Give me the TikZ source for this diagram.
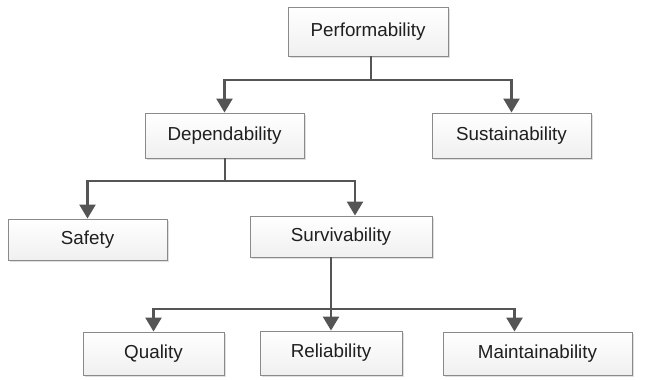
\documentclass[tikz,border=0pt]{standalone}
\usepackage{fontspec}
\setmainfont{Liberation Sans}
\usetikzlibrary{shadows,arrows.meta}
\definecolor{boxline}{HTML}{8A8A8A}
\definecolor{arrowc}{HTML}{555555}
\tikzset{
  box/.style={draw=boxline, line width=0.9pt, top color=white, bottom color=gray!12,
    drop shadow={shadow xshift=2pt, shadow yshift=-2pt, opacity=0.25, fill=gray},
    font=\fontsize{18.8}{22}\selectfont, text=black!88, inner sep=0pt},
  conn/.style={draw=arrowc, line width=2.6pt, -{Triangle[length=14pt,width=16pt]}},
  plain/.style={draw=arrowc, line width=2.6pt}
}
\begin{document}
\begin{tikzpicture}[x=1pt,y=-1pt]
\useasboundingbox (0,0) rectangle (645,380);
\node[box, minimum width=160pt, minimum height=49pt] (perf) at (368,31.5) {Performability};
\node[box, minimum width=159pt, minimum height=45pt] (dep) at (224.5,135.5) {Dependability};
\node[box, minimum width=159pt, minimum height=45pt] (sus) at (511.5,135.5) {Sustainability};
\node[box, minimum width=159pt, minimum height=41pt] (saf) at (87.5,239.5) {Safety};
\node[box, minimum width=182pt, minimum height=41pt] (surv) at (341,236.5) {Survivability};
\node[box, minimum width=141pt, minimum height=43pt] (qual) at (153.5,353.5) {Quality};
\node[box, minimum width=142pt, minimum height=44pt] (rel) at (331,353) {Reliability};
\node[box, minimum width=189pt, minimum height=43pt] (main) at (537.5,353.5) {Maintainability};
\coordinate (j1) at (371,80);
\coordinate (j2) at (225,181);
\coordinate (j3) at (331,309);
\draw[plain] (perf.south -| j1) -- (j1);
\draw[conn] (j1) -| (dep.north);
\draw[conn] (j1) -| (sus.north);
\draw[plain] (dep.south -| j2) -- (j2);
\draw[conn] (j2) -| (saf.north);
\draw[conn] (j2) -| ([xshift=14pt]surv.north);
\draw[conn] (surv.south -| rel.north) -- (rel.north);
\draw[conn] (j3) -| (qual.north);
\draw[conn] (j3) -| ([xshift=-23pt]main.north);
\end{tikzpicture}
\end{document}
